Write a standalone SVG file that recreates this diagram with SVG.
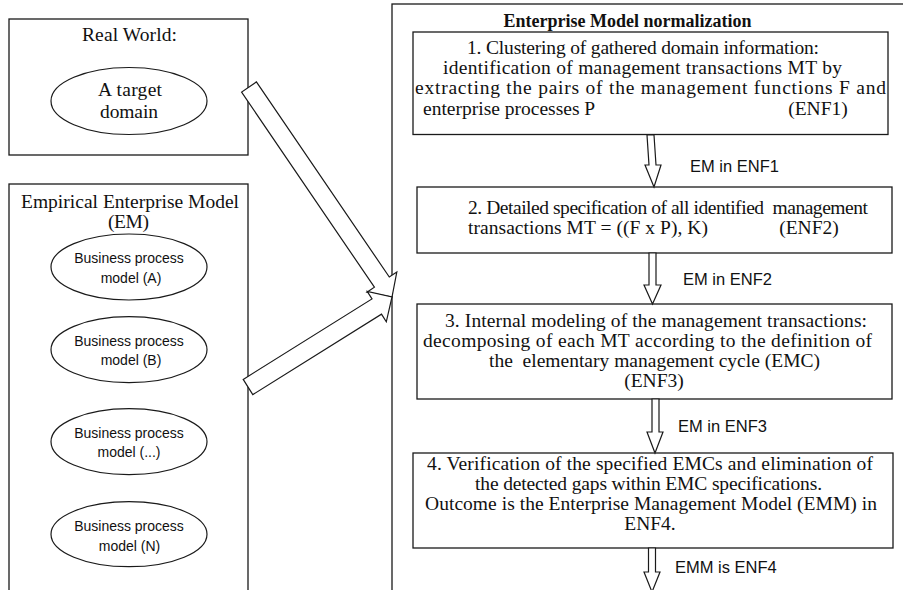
<svg xmlns="http://www.w3.org/2000/svg" width="903" height="590" viewBox="0 0 903 590">
<style>
.box{fill:#fff;stroke:#1a1a1a;stroke-width:1.3}
.oval{fill:#fff;stroke:#1a1a1a;stroke-width:1.2}
.arr{fill:#fff;stroke:#1a1a1a;stroke-width:1.2;stroke-linejoin:miter}
.s{font-family:"Liberation Serif","Times New Roman",serif;font-size:19.5px;fill:#111}
.t{font-family:"Liberation Serif","Times New Roman",serif;font-size:18px;font-weight:bold;fill:#111}
.ss{font-family:"Liberation Sans",Arial,sans-serif;font-size:14px;fill:#111}
.lbl{font-family:"Liberation Sans",Arial,sans-serif;font-size:16.5px;fill:#111}
.m{text-anchor:middle}
</style>
<rect width="903" height="590" fill="#fff"/>

<!-- Real world -->
<g id="real-world">
  <rect class="box" x="9" y="19" width="239" height="136"/>
  <text class="s" x="82" y="41" textLength="95">Real World:</text>
</g>
<g id="target-domain">
  <ellipse class="oval" cx="129" cy="101" rx="78" ry="33.5"/>
  <text class="s" x="98" y="96" textLength="64">A target</text>
  <text class="s" x="100" y="118" textLength="58">domain</text>
</g>

<!-- Empirical enterprise model -->
<g id="empirical-em">
  <rect class="box" x="9" y="184" width="239" height="420"/>
  <text class="s" x="21" y="208" textLength="218">Empirical Enterprise Model</text>
  <text class="s" x="108" y="228" textLength="41">(EM)</text>
</g>
<g id="bpm-a">
  <ellipse class="oval" cx="129" cy="267" rx="78" ry="33"/>
  <text class="ss m" x="129" y="263">Business process</text>
  <text class="ss m" x="131" y="282.5">model (A)</text>
</g>
<g id="bpm-b">
  <ellipse class="oval" cx="129" cy="349.7" rx="78" ry="33"/>
  <text class="ss m" x="129" y="346">Business process</text>
  <text class="ss m" x="131" y="365">model (B)</text>
</g>
<g id="bpm-etc">
  <ellipse class="oval" cx="129" cy="441.7" rx="78" ry="33"/>
  <text class="ss m" x="129" y="438">Business process</text>
  <text class="ss m" x="129" y="457">model (...)</text>
</g>
<g id="bpm-n">
  <ellipse class="oval" cx="129" cy="534.2" rx="78" ry="32.5"/>
  <text class="ss m" x="129" y="531">Business process</text>
  <text class="ss m" x="129.5" y="550.5">model (N)</text>
</g>

<!-- Normalization frame -->
<g id="normalization">
  <rect class="box" x="392" y="4" width="520" height="600"/>
  <text class="t m" x="627.5" y="27">Enterprise Model normalization</text>
</g>

<g id="enf1">
  <rect class="box" x="413" y="32" width="475" height="102.5"/>
  <text class="s" x="467" y="54" textLength="352">1. Clustering of gathered domain information:</text>
  <text class="s" x="443" y="74" textLength="399">identification of management transactions MT by</text>
  <text class="s" x="415" y="94" textLength="471">extracting the pairs of the management functions F and</text>
  <text class="s" x="423" y="115">enterprise processes P</text>
  <text class="s m" x="818" y="115">(ENF1)</text>
</g>

<g id="enf2">
  <rect class="box" x="417" y="187" width="475" height="66"/>
  <text class="s" x="468" y="214" textLength="400">2. Detailed specification of all identified&#160; management</text>
  <text class="s" x="468" y="234" textLength="240">transactions MT = ((F x P), K)</text>
  <text class="s m" x="809" y="234">(ENF2)</text>
</g>

<g id="enf3">
  <rect class="box" x="417" y="304" width="475" height="95"/>
  <text class="s" x="445" y="327" textLength="422">3. Internal modeling of the management transactions:</text>
  <text class="s" x="423" y="347" textLength="449">decomposing of each MT according to the definition of</text>
  <text class="s" x="489" y="367" textLength="331">the&#160; elementary management cycle (EMC)</text>
  <text class="s m" x="654" y="387">(ENF3)</text>
</g>

<g id="enf4">
  <rect class="box" x="413" y="453" width="480" height="95"/>
  <text class="s" x="427" y="470" textLength="446">4. Verification of the specified EMCs and elimination of</text>
  <text class="s" x="475" y="490" textLength="347">the detected gaps within EMC specifications.</text>
  <text class="s" x="425" y="510" textLength="452">Outcome is the Enterprise Management Model (EMM) in</text>
  <text class="s m" x="650" y="530">ENF4.</text>
</g>

<!-- Connectors: block arrows into the frame and the step arrows -->
<g id="connectors">
  <polygon class="arr" points="256.4,81.9 389.3,277 396.8,272 392,297 367,292.2 374.4,287.2 241.6,92.1"/>
  <polygon class="arr" points="243.2,379.4 372,298.9 367.2,291.3 392,297 386.3,321.8 381.5,314.2 252.8,394.6"/>

  <polygon class="arr" points="647,135 654,135 656,165 661,165 654,187 645,165 649,165"/>
  <polygon class="arr" points="649,253 656,253 656,285 661,285 652.5,304 644,285 649,285"/>
  <polygon class="arr" points="652,399 659,399 659,432 663,432 655,453 647,432 652,432"/>
  <polygon class="arr" points="648.5,548 655.5,548 655.5,572 660,572 652,592 644,572 648.5,572"/>

  <text class="lbl" x="690" y="172">EM in ENF1</text>
  <text class="lbl" x="683" y="285">EM in ENF2</text>
  <text class="lbl" x="678" y="432">EM in ENF3</text>
  <text class="lbl" x="675" y="573">EMM is ENF4</text>
</g>
</svg>
